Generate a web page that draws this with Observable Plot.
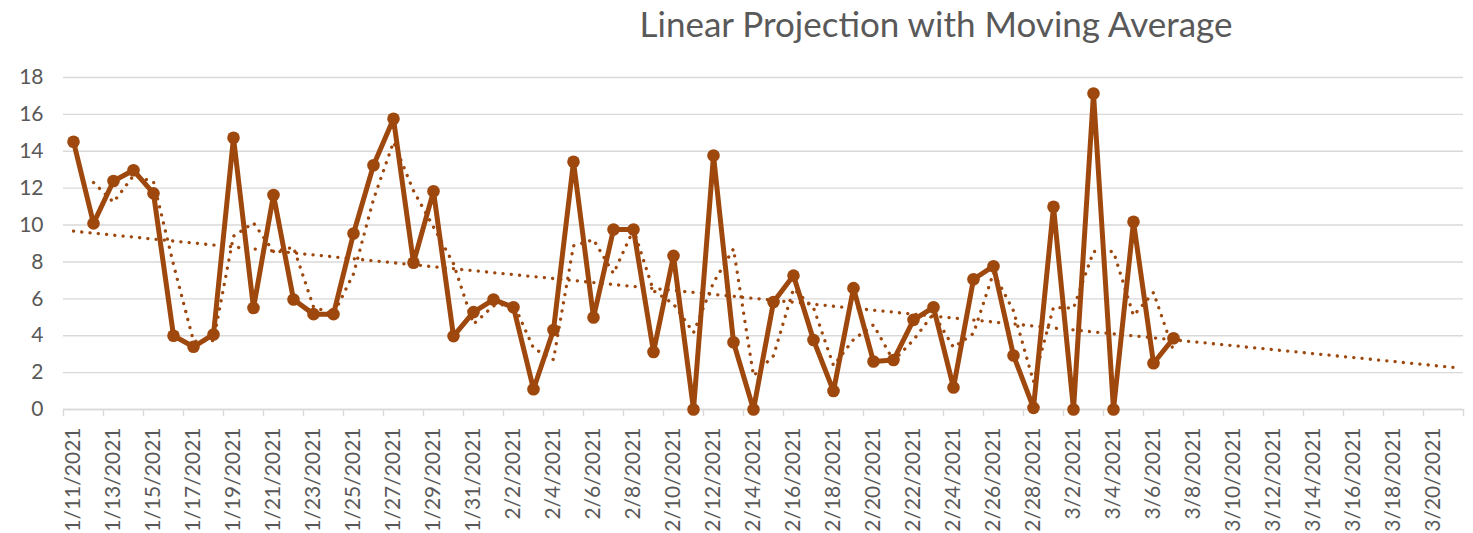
<!DOCTYPE html>
<html>
<head>
<meta charset="utf-8">
<script src="https://cdn.jsdelivr.net/npm/d3@7"></script>
<script src="https://cdn.jsdelivr.net/npm/@observablehq/plot@0.6"></script>
<style>
  html, body { margin: 0; padding: 0; background: #fff; }
  #wrap { width: 1473px; height: 533px; overflow: hidden; }
  #title { position: relative; height: 55px; width: 1473px; }
  #title span { position: absolute; left: 936px; top: 2px; transform: translateX(-50%);
    font-family: Lato, sans-serif; font-size: 35px; line-height: 1.2; color: #595959; white-space: nowrap; }
</style>
</head>
<body>
<div id="wrap">
  <div id="title"><span>Linear Projection with Moving Average</span></div>
  <div id="chart"></div>
</div>
<script>
// ---- data ----
const firstDay = "2021-01-11";      // first category
const lastDay = "2021-03-21";       // last category (forecast end)
const values = [
  14.52, 10.09, 12.39, 12.97, 11.72, 4.0, 3.4, 4.07, 14.73, 5.5,
  11.63, 5.96, 5.17, 5.17, 9.54, 13.24, 15.76, 7.96, 11.83, 3.98,
  5.28, 5.96, 5.54, 1.1, 4.31, 13.43, 4.99, 9.76, 9.76, 3.12,
  8.33, 0, 13.77, 3.65, 0, 5.83, 7.26, 3.77, 1.0, 6.58,
  2.6, 2.68, 4.86, 5.54, 1.19, 7.06, 7.77, 2.93, 0.09, 10.99,
  0, 17.13, 0, 10.18, 2.51, 3.86
];
const tickLabels = [
  "1/11/2021","1/13/2021","1/15/2021","1/17/2021","1/19/2021","1/21/2021","1/23/2021",
  "1/25/2021","1/27/2021","1/29/2021","1/31/2021","2/2/2021","2/4/2021","2/6/2021",
  "2/8/2021","2/10/2021","2/12/2021","2/14/2021","2/16/2021","2/18/2021","2/20/2021",
  "2/22/2021","2/24/2021","2/26/2021","2/28/2021","3/2/2021","3/4/2021","3/6/2021",
  "3/8/2021","3/10/2021","3/12/2021","3/14/2021","3/16/2021","3/18/2021","3/20/2021"
];
const yTicks = [0, 2, 4, 6, 8, 10, 12, 14, 16, 18];
const maPeriod = 2;
const color = "#9E480E";

// ---- derived tables ----
const DAY = 864e5;
const start = new Date(firstDay + "T00:00:00Z");
const end = new Date(lastDay + "T00:00:00Z");
const categories = d3.utcDay.range(start, new Date(+end + DAY));
const data = values.map((v, i) => ({date: categories[i], value: v}));

// moving average (Excel style: starts at the period-th point)
const ma = [];
for (let i = maPeriod - 1; i < values.length; i++) {
  const s = d3.sum(values.slice(i - maPeriod + 1, i + 1));
  ma.push({date: categories[i], value: s / maPeriod});
}

// linear trend (least squares on category index), projected to the last category
const n = values.length;
const xs = d3.range(n);
const mx = d3.mean(xs), my = d3.mean(values);
const slope = d3.sum(xs, (x, i) => (x - mx) * (values[i] - my)) / d3.sum(xs, x => (x - mx) ** 2);
const icpt = my - slope * mx;
const trend = [0, categories.length - 1].map(i => ({date: categories[i], value: icpt + slope * i}));

const parse = s => { const [m, d, y] = s.split("/").map(Number); return new Date(Date.UTC(y, m - 1, d)); };
const labelDates = tickLabels.map(parse);
const boundaries = d3.range(0, categories.length + 1, 2).map(i => new Date(+start + (i - 0.5) * DAY));

const dotted = {stroke: color, strokeWidth: 3.3, strokeDasharray: "0.1 8.2", strokeLinecap: "round", strokeLinejoin: "round"};

const chart = Plot.plot({
  width: 1473,
  height: 478,
  marginTop: 22,
  marginBottom: 124,
  marginLeft: 63,
  marginRight: 10,
  style: {fontFamily: "Lato, sans-serif", fontSize: "21px", color: "#595959", background: "#fff", overflow: "visible"},
  x: {type: "utc", domain: [new Date(+start - DAY / 2), new Date(+end + DAY / 2)], label: null},
  y: {domain: [0, 18], label: null},
  marks: [
    Plot.gridY(yTicks, {stroke: "#d9d9d9", strokeOpacity: 1, strokeWidth: 1.4}),
    Plot.ruleY([0], {stroke: "#d9d9d9", strokeWidth: 1.4}),
    Plot.axisY({ticks: yTicks, tickSize: 0, tickPadding: 20, label: null}),
    Plot.axisX({ticks: boundaries, tickSize: 7, tickFormat: () => "", stroke: "#d9d9d9", strokeWidth: 1.4, label: null}),
    Plot.axisX({ticks: labelDates, tickSize: 0, tickPadding: 18, tickRotate: -90,
      tickFormat: (d, i) => tickLabels[i], label: null}),
    Plot.line(trend, {x: "date", y: "value", ...dotted}),
    Plot.line(data, {x: "date", y: "value", stroke: color, strokeWidth: 5, strokeLinejoin: "round"}),
    Plot.dot(data, {x: "date", y: "value", r: 6.3, fill: color}),
    Plot.line(ma, {x: "date", y: "value", ...dotted})
  ]
});
document.getElementById("chart").appendChild(chart);
</script>
</body>
</html>
